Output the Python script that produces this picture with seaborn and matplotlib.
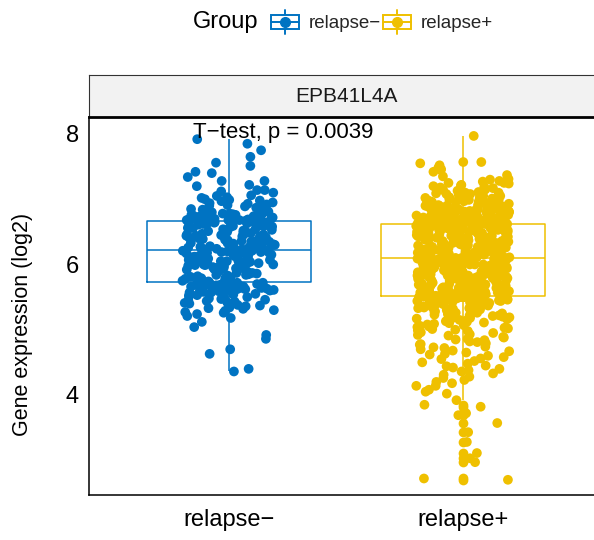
import numpy as np
import pandas as pd
import matplotlib
matplotlib.use("Agg")
import matplotlib.pyplot as plt
import seaborn as sns
from matplotlib.patches import Rectangle
from matplotlib.lines import Line2D
from matplotlib.legend_handler import HandlerBase

# ---------------- data ----------------
groups = ["relapse\u2212", "relapse+"]
colors = ["#0073C2", "#EFC000"]
gene = "EPB41L4A"
p_label = "T\u2212test, p = 0.0039"
y_ticks = [4, 6, 8]

relapse_neg = [
    4.36, 4.40, 4.63, 4.70, 4.86, 4.92, 5.04, 5.12, 5.21, 5.26,
    5.27, 5.29, 5.32, 5.33, 5.36, 5.38, 5.41, 5.43, 5.44, 5.47,
    5.48, 5.50, 5.51, 5.53, 5.54, 5.55, 5.57, 5.58, 5.59, 5.60,
    5.61, 5.62, 5.63, 5.64, 5.65, 5.66, 5.66, 5.67, 5.68, 5.69,
    5.69, 5.70, 5.70, 5.71, 5.71, 5.72, 5.72,
    5.73, 5.74, 5.76, 5.77, 5.79, 5.80, 5.81, 5.83, 5.84, 5.85,
    5.87, 5.88, 5.89, 5.91, 5.92, 5.93, 5.94, 5.96, 5.97, 5.98,
    5.99, 6.00, 6.01, 6.02, 6.03, 6.04, 6.05, 6.06, 6.07, 6.08,
    6.09, 6.10, 6.11, 6.12, 6.13, 6.14, 6.15, 6.15, 6.16, 6.17,
    6.18, 6.18, 6.19, 6.20, 6.20, 6.21, 6.21, 6.22,
    6.22, 6.23, 6.24, 6.25, 6.26, 6.27, 6.28, 6.29, 6.30, 6.31,
    6.32, 6.33, 6.34, 6.35, 6.36, 6.37, 6.38, 6.39, 6.40, 6.41,
    6.42, 6.43, 6.44, 6.45, 6.46, 6.47, 6.48, 6.49, 6.50, 6.51,
    6.52, 6.53, 6.54, 6.55, 6.56, 6.57, 6.58, 6.59, 6.60, 6.61,
    6.62, 6.63, 6.63, 6.64, 6.65, 6.65, 6.66, 6.66,
    7.92, 7.85, 7.75, 7.65, 7.56, 7.51, 7.42, 7.40, 7.28, 7.28,
    7.20, 7.14, 7.14, 7.10, 7.05, 7.02, 7.00, 6.98, 6.95, 6.93,
    6.91, 6.90, 6.88, 6.86, 6.85, 6.84, 6.82, 6.81, 6.80, 6.79,
    6.78, 6.77, 6.76, 6.75, 6.74, 6.73, 6.72, 6.72, 6.71, 6.70,
    6.70, 6.69, 6.69, 6.68, 6.68, 6.67, 6.67,
]
relapse_neg_more = [
    5.18, 5.24, 5.30, 5.34, 5.37, 5.40, 5.42, 5.45, 5.46, 5.49,
    5.52, 5.53, 5.56, 5.57, 5.58, 5.60, 5.61, 5.62, 5.64, 5.65,
    5.67, 5.68, 5.69, 5.70, 5.71, 5.72, 5.72,
    5.74, 5.75, 5.78, 5.80, 5.82, 5.84, 5.86, 5.87, 5.89, 5.90,
    5.92, 5.94, 5.95, 5.97, 5.99, 6.00, 6.02, 6.04, 6.05, 6.07,
    6.09, 6.10, 6.12, 6.14, 6.16, 6.17, 6.19, 6.21,
    6.23, 6.25, 6.26, 6.28, 6.30, 6.31, 6.33, 6.35, 6.36, 6.38,
    6.40, 6.41, 6.43, 6.44, 6.46, 6.48, 6.49, 6.51, 6.52, 6.54,
    6.56, 6.57, 6.59, 6.60, 6.62, 6.63, 6.64, 6.65,
    7.34, 7.22, 7.12, 7.06, 7.03, 6.99, 6.97, 6.94, 6.92, 6.89,
    6.87, 6.85, 6.83, 6.81, 6.79, 6.78, 6.76, 6.75, 6.74, 6.73,
    6.71, 6.70, 6.69, 6.68, 6.68, 6.67, 6.67,
]

relapse_pos = [
    2.70, 2.72, 2.97, 3.03, 3.11, 3.28, 3.43, 3.57, 3.69, 3.72,
    3.82, 3.85,
    3.92, 4.05, 4.08, 4.14, 4.14, 4.20, 4.23, 4.28, 4.33, 4.36,
    4.40, 4.42, 4.45, 4.48,
    4.52, 4.55, 4.58, 4.60, 4.62, 4.65, 4.67, 4.70, 4.72, 4.74,
    4.77, 4.79, 4.82, 4.84, 4.86, 4.88, 4.91, 4.93, 4.96, 4.98,
    5.00, 5.02, 5.03, 5.05, 5.06, 5.08, 5.09, 5.11, 5.12, 5.14,
    5.15, 5.17, 5.18, 5.19, 5.21, 5.22, 5.23, 5.25, 5.26, 5.27,
    5.28, 5.30, 5.31, 5.32, 5.33, 5.34, 5.35, 5.36, 5.37, 5.38,
    5.39, 5.40, 5.41, 5.42, 5.43, 5.44, 5.44, 5.45, 5.46, 5.47,
    5.47, 5.48, 5.48, 5.49, 5.49, 5.50, 5.50, 5.51, 5.51, 5.51,
    5.52, 5.52, 5.52, 5.52,
    5.53, 5.53, 5.54, 5.55, 5.55, 5.56, 5.57, 5.57, 5.58, 5.59,
    5.59, 5.60, 5.61, 5.61, 5.62, 5.63, 5.63, 5.64, 5.65, 5.65,
    5.66, 5.67, 5.67, 5.68, 5.69, 5.69, 5.70, 5.71, 5.71, 5.72,
    5.73, 5.73, 5.74, 5.75, 5.75, 5.76, 5.77, 5.77, 5.78, 5.79,
    5.79, 5.80, 5.81, 5.81, 5.82, 5.83, 5.83, 5.84, 5.85, 5.85,
    5.86, 5.87, 5.87, 5.88, 5.89, 5.89, 5.90, 5.91, 5.91, 5.92,
    5.93, 5.93, 5.94, 5.95, 5.95, 5.96, 5.97, 5.97, 5.98, 5.99,
    5.99, 6.00, 6.01, 6.01, 6.02, 6.03, 6.03, 6.04, 6.05, 6.05,
    6.06, 6.06, 6.07, 6.07, 6.07, 6.08, 6.08, 6.08, 6.09, 6.09,
    6.09, 6.09, 6.10, 6.10, 6.10, 6.10, 6.10, 6.11, 6.11, 6.11,
    6.12, 6.12, 6.13, 6.14, 6.14, 6.15, 6.15, 6.16, 6.17, 6.17,
    6.18, 6.18, 6.19, 6.20, 6.20, 6.21, 6.21, 6.22, 6.23, 6.23,
    6.24, 6.24, 6.25, 6.26, 6.26, 6.27, 6.27, 6.28, 6.29, 6.29,
    6.30, 6.30, 6.31, 6.32, 6.32, 6.33, 6.33, 6.34, 6.35, 6.35,
    6.36, 6.36, 6.37, 6.38, 6.38, 6.39, 6.39, 6.40, 6.41, 6.41,
    6.42, 6.42, 6.43, 6.44, 6.44, 6.45, 6.45, 6.46, 6.47, 6.47,
    6.48, 6.48, 6.49, 6.50, 6.50, 6.51, 6.51, 6.52, 6.53, 6.53,
    6.54, 6.54, 6.55, 6.55, 6.56, 6.56, 6.57, 6.57, 6.57, 6.58,
    6.58, 6.58, 6.59, 6.59, 6.59, 6.60, 6.60, 6.60, 6.61, 6.61,
    6.61, 6.62, 6.62, 6.62, 6.63, 6.63,
    7.97, 7.57, 7.57, 7.55, 7.52, 7.48, 7.46, 7.45, 7.37, 7.30,
    7.28, 7.27, 7.25, 7.25, 7.22,
    7.20, 7.19, 7.18, 7.17, 7.15, 7.14, 7.13, 7.12, 7.11, 7.10,
    7.09, 7.08, 7.07, 7.06, 7.05, 7.04, 7.03, 7.02, 7.01, 7.00,
    6.99, 6.98, 6.97, 6.96, 6.96, 6.95, 6.94, 6.93, 6.93, 6.92,
    6.91, 6.90, 6.90, 6.89, 6.88, 6.87, 6.87, 6.86, 6.85, 6.84,
    6.84, 6.83, 6.82, 6.81, 6.81, 6.80, 6.79, 6.78, 6.78, 6.77,
    6.76, 6.76, 6.75, 6.75, 6.74, 6.74, 6.73, 6.73, 6.72, 6.72,
    6.71, 6.71, 6.70, 6.70, 6.69, 6.69, 6.68, 6.68, 6.67, 6.67,
    6.66, 6.66, 6.66, 6.65, 6.65, 6.65, 6.64, 6.64, 6.64,
]
relapse_pos_more = [
    4.02, 4.18, 4.26, 4.31, 4.38, 4.44, 4.50, 4.56, 4.63, 4.68,
    4.73, 4.78, 4.81, 4.85, 4.89, 4.92, 4.95, 4.99, 5.01, 5.04,
    5.07, 5.10, 5.13, 5.16, 5.18, 5.20, 5.22, 5.24, 5.26, 5.28,
    5.29, 5.31, 5.33, 5.34, 5.36, 5.37, 5.38, 5.39, 5.40, 5.41,
    5.42, 5.43, 5.44, 5.45, 5.46, 5.46, 5.47, 5.48, 5.48, 5.49,
    5.49, 5.50, 5.50, 5.50, 5.51, 5.51, 5.51, 5.52, 5.52, 5.52,
    5.52, 5.52,
    5.53, 5.54, 5.55, 5.56, 5.57, 5.58, 5.58, 5.59, 5.60, 5.61,
    5.62, 5.63, 5.64, 5.64, 5.65, 5.66, 5.67, 5.68, 5.69, 5.70,
    5.70, 5.71, 5.72, 5.73, 5.74, 5.75, 5.76, 5.76, 5.77, 5.78,
    5.79, 5.80, 5.81, 5.82, 5.82, 5.83, 5.84, 5.85, 5.86, 5.87,
    5.88, 5.88, 5.89, 5.90, 5.91, 5.92, 5.93, 5.94, 5.94, 5.95,
    5.96, 5.97, 5.98, 5.99, 6.00, 6.00, 6.01, 6.02, 6.03, 6.04,
    6.05, 6.06, 6.08,
    6.11, 6.12, 6.13, 6.14, 6.15, 6.16, 6.16, 6.17, 6.18, 6.19,
    6.20, 6.21, 6.22, 6.22, 6.23, 6.24, 6.25, 6.26, 6.27, 6.28,
    6.28, 6.29, 6.30, 6.31, 6.32, 6.33, 6.34, 6.34, 6.35, 6.36,
    6.37, 6.38, 6.39, 6.40, 6.40, 6.41, 6.42, 6.43, 6.44, 6.45,
    6.46, 6.46, 6.47, 6.48, 6.49, 6.50, 6.51, 6.52, 6.52, 6.53,
    6.54, 6.55, 6.56, 6.57, 6.58, 6.58, 6.59, 6.60, 6.60, 6.61,
    6.61, 6.62, 6.62,
    7.42, 7.35, 7.31, 7.24, 7.21, 7.16, 7.13, 7.10, 7.08, 7.05,
    7.03, 7.01, 6.99, 6.97, 6.96, 6.94, 6.93, 6.91, 6.90, 6.89,
    6.88, 6.86, 6.85, 6.84, 6.83, 6.82, 6.81, 6.80, 6.79, 6.78,
    6.77, 6.77, 6.76, 6.75, 6.74, 6.73, 6.73, 6.72, 6.71, 6.71,
    6.70, 6.70, 6.69, 6.69, 6.68, 6.68, 6.67, 6.67, 6.66, 6.66,
    6.65, 6.65, 6.65, 6.64, 6.64, 6.64, 6.63, 6.63, 6.63, 6.63,
    6.62, 6.62,
]

neg_all = relapse_neg + relapse_neg_more
pos_all = relapse_pos + relapse_pos_more
df = pd.DataFrame({
    "Group": [groups[0]] * len(neg_all) + [groups[1]] * len(pos_all),
    "value": neg_all + pos_all,
})

# ---------------- style ----------------
sns.set_theme(style="white")
plt.rcParams["font.family"] = ["Liberation Sans", "DejaVu Sans"]
np.random.seed(3)

W, H = 594, 540
fig = plt.figure(figsize=(W / 100, H / 100), dpi=100)
ax_l, ax_r, ax_b, ax_t = 89, 603, 495, 117
ax = fig.add_axes([ax_l / W, 1 - ax_b / H, (ax_r - ax_l) / W, (ax_b - ax_t) / H])

pal = dict(zip(groups, colors))
sns.boxplot(data=df, x="Group", y="value", hue="Group", order=groups,
            hue_order=groups, palette=pal, fill=False, width=0.7,
            linewidth=1.1, whis=1.5, saturation=1, legend=False,
            fliersize=7, ax=ax, capprops={"visible": False}, zorder=2)
for ln in ax.lines:
    m = ln.get_marker()
    if m not in (None, "", "None", " "):
        ln.set_markerfacecolor(ln.get_markeredgecolor())
        ln.set_markeredgewidth(0)
        ln.set_marker("o")
        ln.set_markersize(7)

sns.stripplot(data=df, x="Group", y="value", hue="Group", order=groups,
              hue_order=groups, palette=pal, jitter=0.2, size=7,
              linewidth=0, legend=False, ax=ax, zorder=3)

ax.set_xlim(-0.6, 1.6)
ax.set_ylim(2.467, 8.26)
ax.set_yticks(y_ticks)
ax.set_xlabel("")
ax.set_ylabel("Gene expression (log2)", fontsize=15.5, color="black")
ax.yaxis.set_label_coords(-0.109, 0.451)
ax.tick_params(axis="both", labelsize=17, colors="black", length=4.3,
               width=1.0, direction="out", pad=3)
ax.tick_params(axis="x", pad=6)
for s in ["top", "right"]:
    ax.spines[s].set_visible(False)
for s in ["left", "bottom"]:
    ax.spines[s].set_color("black")
    ax.spines[s].set_linewidth(1.1)
ax.set_facecolor("white")

ax.text(-0.154, 8.015, p_label, fontsize=16, ha="left", va="center",
        color="black", zorder=5)

# facet strip
sax = fig.add_axes([ax_l / W, 1 - ax_t / H, (ax_r - ax_l) / W, 42 / H])
sax.set_facecolor("#F2F2F2")
sax.set_xticks([]); sax.set_yticks([])
for s in ["top", "left", "right"]:
    sax.spines[s].set_color("#333333")
    sax.spines[s].set_linewidth(0.8)
sax.spines["bottom"].set_color("black")
sax.spines["bottom"].set_linewidth(2.0)
sax.text(0.5, 0.5, gene, fontsize=15, ha="center", va="center",
         color="#1A1A1A", transform=sax.transAxes)

# legend
class BoxHandler(HandlerBase):
    def create_artists(self, legend, orig_handle, xdescent, ydescent,
                       width, height, fontsize, trans):
        c = orig_handle.get_color()
        x0, y0 = -xdescent, -ydescent
        cx, cy = x0 + width / 2, y0 + height / 2
        bh = height * 0.58
        wl = Line2D([cx, cx], [y0, cy - bh / 2], color=c, lw=1.4, transform=trans)
        wu = Line2D([cx, cx], [cy + bh / 2, y0 + height], color=c, lw=1.4, transform=trans)
        rect = Rectangle((x0, cy - bh / 2), width, bh, facecolor="white",
                         edgecolor=c, lw=1.4, transform=trans)
        med = Line2D([x0, x0 + width], [cy, cy], color=c, lw=1.4, transform=trans)
        dot = Line2D([cx], [cy], marker="o", markersize=7, color=c,
                     linestyle="none", transform=trans)
        return [wl, wu, rect, med, dot]

handles = [Line2D([], [], color=c) for c in colors]
fig.text(193 / W, 1 - 22 / H, "Group", fontsize=17, ha="left", va="center",
         color="black")
fig.legend(handles, groups, loc="center left",
           bbox_to_anchor=(271 / W, 1 - 22 / H), ncol=2, frameon=False,
           fontsize=13.5, handlelength=1.5, handleheight=1.55,
           handletextpad=0.5, columnspacing=0.12, borderpad=0,
           borderaxespad=0, handler_map={Line2D: BoxHandler()})

fig.savefig("out.png", dpi=100, facecolor="white")
